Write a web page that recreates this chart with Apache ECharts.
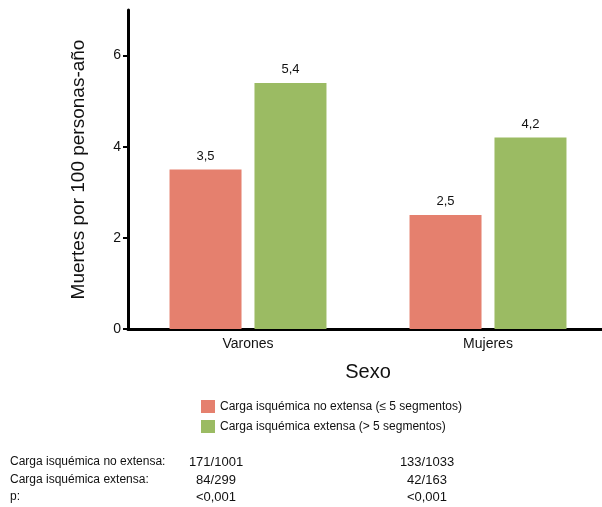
<!DOCTYPE html>
<html><head><meta charset="utf-8">
<script src="https://cdn.jsdelivr.net/npm/echarts@6/dist/echarts.min.js"></script>
<style>html,body{margin:0;padding:0;background:#fff;overflow:hidden}#c{width:608px;height:507px}</style>
</head><body><div id="c"></div>
<script>
const categories = ['Varones', 'Mujeres'];
const seriesNames = ['Carga isquémica no extensa (≤ 5 segmentos)', 'Carga isquémica extensa (> 5 segmentos)'];
const noExtensa = [3.5, 2.5];
const extensa = [5.4, 4.2];
const yTicks = [0, 2, 4, 6];
const tableRowLabels = ['Carga isquémica no extensa:', 'Carga isquémica extensa:', 'p:'];
const tableVarones = ['171/1001', '84/299', '<0,001'];
const tableMujeres = ['133/1033', '42/163', '<0,001'];

const FONT = 'Liberation Sans, Arial, sans-serif';
const fmt = v => v.toFixed(1).replace('.', ',');
const rowY = [462, 480, 497];
const graphics = [];
tableRowLabels.forEach((t, i) => {
  graphics.push({type:'text', x:10, y:rowY[i], style:{text:t, font:'12px '+FONT, fill:'#111', verticalAlign:'middle'}});
  graphics.push({type:'text', x:216, y:rowY[i], style:{text:tableVarones[i], font:'13px '+FONT, fill:'#111', align:'center', verticalAlign:'middle'}});
  graphics.push({type:'text', x:427, y:rowY[i], style:{text:tableMujeres[i], font:'13px '+FONT, fill:'#111', align:'center', verticalAlign:'middle'}});
});

const chart = echarts.init(document.getElementById('c'));
chart.setOption({
  animation: false,
  textStyle: {fontFamily: FONT},
  grid: {left: 128, top: 10, right: 0, bottom: 178, containLabel: false},
  legend: {
    orient: 'vertical', left: 196, top: 395, itemWidth: 14, itemHeight: 13, itemGap: 7,
    icon: 'rect',
    textStyle: {fontSize: 12, color: '#111', fontFamily: FONT},
    data: seriesNames
  },
  xAxis: {
    type: 'category', data: categories,
    name: 'Sexo', nameLocation: 'middle', nameGap: 33,
    nameTextStyle: {fontSize: 20, color: '#111', padding: [0, 0, 0, 0]},
    axisLine: {lineStyle: {color: '#000', width: 3}},
    axisTick: {alignWithLabel: true, length: 4, lineStyle: {width: 2, color: '#000'}},
    axisLabel: {fontSize: 14, color: '#111', margin: 8}
  },
  yAxis: {
    type: 'value', min: 0, max: 7,
    name: 'Muertes por 100 personas-año', nameLocation: 'middle', nameGap: 40,
    nameTextStyle: {fontSize: 19, color: '#111'},
    axisLine: {show: true, lineStyle: {color: '#000', width: 3}},
    axisTick: {show: true, length: 5, customValues: yTicks, lineStyle: {width: 2, color: '#000'}},
    axisLabel: {fontSize: 14, color: '#111', margin: 7, customValues: yTicks},
    splitLine: {show: false}
  },
  series: [
    {name: seriesNames[0], type: 'bar', data: noExtensa, barWidth: 72, barGap: '18%',
     itemStyle: {color: '#E5806E'},
     label: {show: true, position: 'top', distance: 7, fontSize: 13, color: '#111', formatter: p => fmt(p.value)}},
    {name: seriesNames[1], type: 'bar', data: extensa, barWidth: 72, barGap: '18%',
     itemStyle: {color: '#9BBB63'},
     label: {show: true, position: 'top', distance: 7, fontSize: 13, color: '#111', formatter: p => fmt(p.value)}}
  ],
  graphic: graphics
});
</script></body></html>
